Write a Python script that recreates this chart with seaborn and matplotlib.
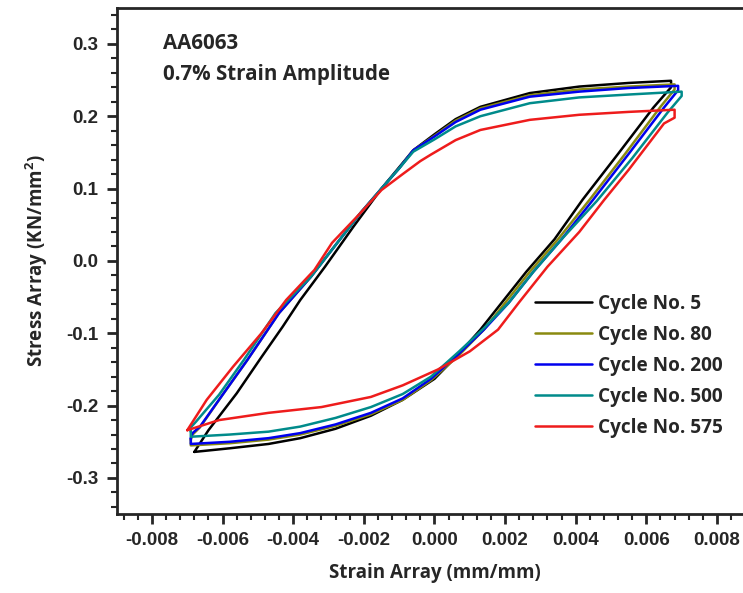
import matplotlib
matplotlib.use("Agg")
import matplotlib.pyplot as plt
import pandas as pd
import seaborn as sns
from matplotlib.ticker import MultipleLocator

# hysteresis loops: bottom-left tip -> up left branch ->
# across top -> down right branch -> across bottom back to the tip
strain_c5 = [-0.0068, -0.0064, -0.0056, -0.0049, -0.0043, -0.0038, -0.0031, -0.0023,
             -0.0015, -0.0006, 0.0000, 0.0006, 0.0013, 0.0027, 0.0041, 0.0055,
             0.0067, 0.0067, 0.0062, 0.0052, 0.0042, 0.0034, 0.0026, 0.0019, 0.0013,
             0.0007, 0.0000, -0.0009, -0.0018, -0.0028, -0.0038, -0.0047, -0.0058, -0.0068]
stress_c5 = [-0.264, -0.234, -0.183, -0.133, -0.091, -0.054, -0.008, 0.047,
             0.100, 0.153, 0.175, 0.196, 0.213, 0.232, 0.241, 0.246,
             0.249, 0.240, 0.212, 0.148, 0.085, 0.030, -0.015, -0.058, -0.095,
             -0.128, -0.163, -0.192, -0.214, -0.232, -0.245, -0.253, -0.259, -0.264]

strain_c80 = [-0.0069, -0.00685, -0.00664, -0.0060, -0.0053, -0.0044, -0.0035, -0.0028,
              -0.0021, -0.0015, -0.0010, -0.0006, 0.0000, 0.0006, 0.0013,
              0.0027, 0.0041, 0.0055, 0.0068, 0.0068, 0.0064, 0.0054, 0.0044, 0.0035,
              0.0027, 0.0020, 0.0014, 0.0007, -0.0001, -0.0009, -0.0018, -0.0028,
              -0.0038, -0.0047, -0.0058, -0.0069, -0.0069]
stress_c80 = [-0.247, -0.240, -0.230, -0.185, -0.137, -0.072, -0.022, 0.022,
              0.066, 0.100, 0.128, 0.153, 0.173, 0.194, 0.211,
              0.229, 0.237, 0.241, 0.244, 0.237, 0.213, 0.148, 0.085, 0.030,
              -0.015, -0.058, -0.095, -0.130, -0.165, -0.192, -0.212, -0.228,
              -0.240, -0.247, -0.252, -0.255, -0.247]

strain_c200 = [-0.0069, -0.00685, -0.00664, -0.0060, -0.0053, -0.0044, -0.0035, -0.0028,
               -0.0021, -0.0015, -0.0010, -0.0006, 0.0000, 0.0006, 0.0013,
               0.0027, 0.0041, 0.0055, 0.0069, 0.0069, 0.0065, 0.0055, 0.0045, 0.0036,
               0.0028, 0.0021, 0.0014, 0.0007, -0.0001, -0.0009, -0.0018, -0.0028,
               -0.0038, -0.0047, -0.0058, -0.0069, -0.0069]
stress_c200 = [-0.245, -0.238, -0.229, -0.185, -0.137, -0.072, -0.022, 0.022,
               0.066, 0.100, 0.128, 0.153, 0.172, 0.192, 0.209,
               0.227, 0.234, 0.239, 0.242, 0.236, 0.212, 0.148, 0.085, 0.030,
               -0.015, -0.058, -0.095, -0.128, -0.163, -0.190, -0.210, -0.226,
               -0.238, -0.245, -0.250, -0.253, -0.245]

strain_c500 = [-0.0069, -0.0069, -0.00675, -0.0061, -0.0054, -0.0045, -0.0035, -0.0028,
               -0.0021, -0.0015, -0.0010, -0.0006, 0.0000, 0.0006, 0.0013,
               0.0027, 0.0041, 0.0055, 0.0070, 0.0070, 0.0066, 0.0056, 0.0046, 0.0036,
               0.0028, 0.0021, 0.0014, 0.0007, -0.0001, -0.0009, -0.0018, -0.0028,
               -0.0038, -0.0047, -0.0058, -0.0069, -0.0069]
stress_c500 = [-0.236, -0.230, -0.222, -0.185, -0.137, -0.072, -0.022, 0.022,
               0.066, 0.100, 0.128, 0.151, 0.168, 0.186, 0.200,
               0.218, 0.226, 0.230, 0.234, 0.228, 0.205, 0.142, 0.083, 0.030,
               -0.015, -0.058, -0.093, -0.125, -0.160, -0.184, -0.202, -0.217,
               -0.229, -0.236, -0.240, -0.243, -0.236]

strain_c575 = [-0.0070, -0.00645, -0.0057, -0.0049, -0.0042, -0.0034, -0.0029, -0.0021,
               -0.0015, -0.0009, -0.0004, -0.0001, 0.0006, 0.0013,
               0.0027, 0.0041, 0.0055, 0.0068, 0.0068, 0.0065, 0.0055, 0.0048, 0.0041,
               0.0032, 0.0024, 0.0018, 0.0010, 0.0001, -0.0009, -0.0018, -0.0032,
               -0.0047, -0.0061, -0.0070]
stress_c575 = [-0.234, -0.192, -0.146, -0.100, -0.054, -0.0125, 0.025, 0.066,
               0.098, 0.120, 0.138, 0.147, 0.167, 0.181,
               0.195, 0.202, 0.206, 0.209, 0.198, 0.190, 0.126, 0.084, 0.040,
               -0.008, -0.057, -0.095, -0.125, -0.150, -0.172, -0.188, -0.202,
               -0.210, -0.220, -0.234]

cycle_labels = ["Cycle No. 5", "Cycle No. 80", "Cycle No. 200", "Cycle No. 500", "Cycle No. 575"]
cycle_colors = ["#000000", "#8a8a10", "#0000ee", "#008b8b", "#ee1c1c"]

x_ticks = [-0.008, -0.006, -0.004, -0.002, 0.000, 0.002, 0.004, 0.006, 0.008]
x_tick_labels = ["-0.008", "-0.006", "-0.004", "-0.002", "0.000", "0.002", "0.004", "0.006", "0.008"]
y_ticks = [-0.3, -0.2, -0.1, 0.0, 0.1, 0.2, 0.3]
y_tick_labels = ["-0.3", "-0.2", "-0.1", "0.0", "0.1", "0.2", "0.3"]

loops = [(strain_c5, stress_c5), (strain_c80, stress_c80), (strain_c200, stress_c200),
         (strain_c500, stress_c500), (strain_c575, stress_c575)]
frames = []
for label, (strain, stress) in zip(cycle_labels, loops):
    frames.append(pd.DataFrame({"strain": strain, "stress": stress, "cycle": label}))
data = pd.concat(frames, ignore_index=True)

sns.set_style("ticks")
plt.rcParams["font.family"] = ["Open Sans", "DejaVu Sans"]
plt.rcParams["mathtext.fontset"] = "custom"
plt.rcParams["mathtext.bf"] = "Open Sans:bold"
plt.rcParams["mathtext.rm"] = "Open Sans:bold"

fig = plt.figure(figsize=(7.43, 5.93), dpi=100)
ax = fig.add_axes([0.157, 0.133, 0.8555, 0.854])

sns.lineplot(data=data, x="strain", y="stress", hue="cycle", hue_order=cycle_labels,
             palette=cycle_colors, sort=False, estimator=None, units="cycle",
             linewidth=1.8, ax=ax)

ax.set_xlim(-0.009, 0.009)
ax.set_ylim(-0.35, 0.35)
ax.set_xticks(x_ticks, x_tick_labels)
ax.set_yticks(y_ticks, y_tick_labels)
ax.xaxis.set_minor_locator(MultipleLocator(0.0004))
ax.yaxis.set_minor_locator(MultipleLocator(0.02))
ax.tick_params(which="major", direction="out", length=7, width=2, labelsize=13.5)
ax.tick_params(axis="x", which="major", pad=6)
ax.tick_params(axis="y", which="major", pad=6)
ax.tick_params(which="minor", direction="out", length=4, width=1.5)
for lab in ax.get_xticklabels() + ax.get_yticklabels():
    lab.set_fontfamily("Liberation Sans")
    lab.set_fontweight("bold")
for side in ax.spines.values():
    side.set_linewidth(2)

ax.set_xlabel("Strain Array (mm/mm)", fontsize=13.5, fontweight="bold", labelpad=10)
ax.set_ylabel("Stress Array (KN/mm$^2$)", fontsize=13.5, fontweight="bold", labelpad=12)

ax.text(0.0728, 0.9186, "AA6063", transform=ax.transAxes, fontsize=14.8,
        fontweight="bold", va="baseline")
ax.text(0.0728, 0.8574, "0.7% Strain Amplitude", transform=ax.transAxes, fontsize=14.8,
        fontweight="bold", va="baseline")

ax.legend(loc="upper left", bbox_to_anchor=(535 / 743, 1 - 294 / 593),
          bbox_transform=fig.transFigure, frameon=False,
          handlelength=3.0, handletextpad=0.3, labelspacing=0.58,
          borderpad=0, borderaxespad=0, prop={"weight": "bold", "size": 13.7})

fig.savefig("out.png", dpi=100)
